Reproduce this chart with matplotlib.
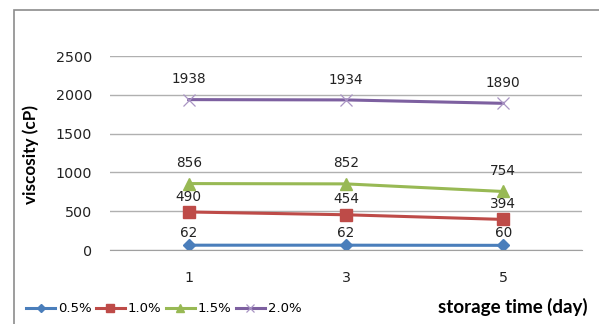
import matplotlib.pyplot as plt
from matplotlib.patches import Rectangle

days = ['1', '3', '5']
series_names = ['0.5%', '1.0%', '1.5%', '2.0%']
visc_05 = [62, 62, 60]
visc_10 = [490, 454, 394]
visc_15 = [856, 852, 754]
visc_20 = [1938, 1934, 1890]

colors = ['#4A7EBB', '#BE4B48', '#98B954', '#7D60A0']
markers = ['D', 's', '^', 'x']
msizes = [6, 8.5, 9, 8]
label_offsets = [9, 11, 15, 14.5]

fig = plt.figure(figsize=(5.99, 3.24), dpi=100)
fig.patches.append(Rectangle((14 / 599, -0.1), 1.2, 1 - 10 / 324 + 0.1,
                             transform=fig.transFigure, fill=False,
                             edgecolor='#8c8c8c', linewidth=1.2))

ax = fig.add_axes([110 / 599, 1 - 250 / 324, 472 / 599, 194 / 324])
xs = [0.5, 1.5, 2.5]
handles = []
for vals, name, c, m, ms, off in zip([visc_05, visc_10, visc_15, visc_20],
                                     series_names, colors, markers, msizes,
                                     label_offsets):
    if m == 'x':
        h, = ax.plot(xs, vals, color=c, lw=2.2, marker=m, ms=ms,
                     mec='#a994c4', mew=0.9, label=name)
    else:
        h, = ax.plot(xs, vals, color=c, lw=2.2, marker=m, ms=ms,
                     mec=c, label=name)
    handles.append(h)
    for x, v in zip(xs, vals):
        ax.annotate(str(v), (x, v), xytext=(0, off), textcoords='offset points',
                    ha='center', va='center', fontsize=9.8, color='#222222')

ax.set_xlim(0, 3)
ax.set_ylim(0, 2500)
ax.set_yticks(range(0, 2501, 500))
ax.set_xticks(xs)
ax.set_xticklabels(days)
ax.tick_params(axis='both', length=0, labelsize=10.3, colors='#222222')
ax.tick_params(axis='y', pad=13)
ax.tick_params(axis='x', pad=15)
ax.grid(axis='y', color='#b0b0b0', lw=1)
ax.set_axisbelow(True)
for s in ['left', 'right', 'top']:
    ax.spines[s].set_visible(False)
ax.spines['bottom'].set_color('#a0a0a0')

fig.text(31 / 599, 1 - 154 / 324, 'viscosity (cP)', rotation=90,
         ha='center', va='center', fontsize=12.3, fontweight='bold',
         family='Lato')
fig.text(588 / 599, 1 - 307 / 324, 'storage time (day)', ha='right',
         va='center', fontsize=13.5, fontweight='bold', family='Lato')

fig.legend(handles=handles, loc='center left',
           bbox_to_anchor=(26 / 599, 1 - 309 / 324), ncol=4, frameon=False,
           fontsize=9.5, handlelength=2.2, handletextpad=0.2, markerscale=0.7,
           columnspacing=0.35, borderpad=0, borderaxespad=0)

fig.savefig('out.png', dpi=100)
